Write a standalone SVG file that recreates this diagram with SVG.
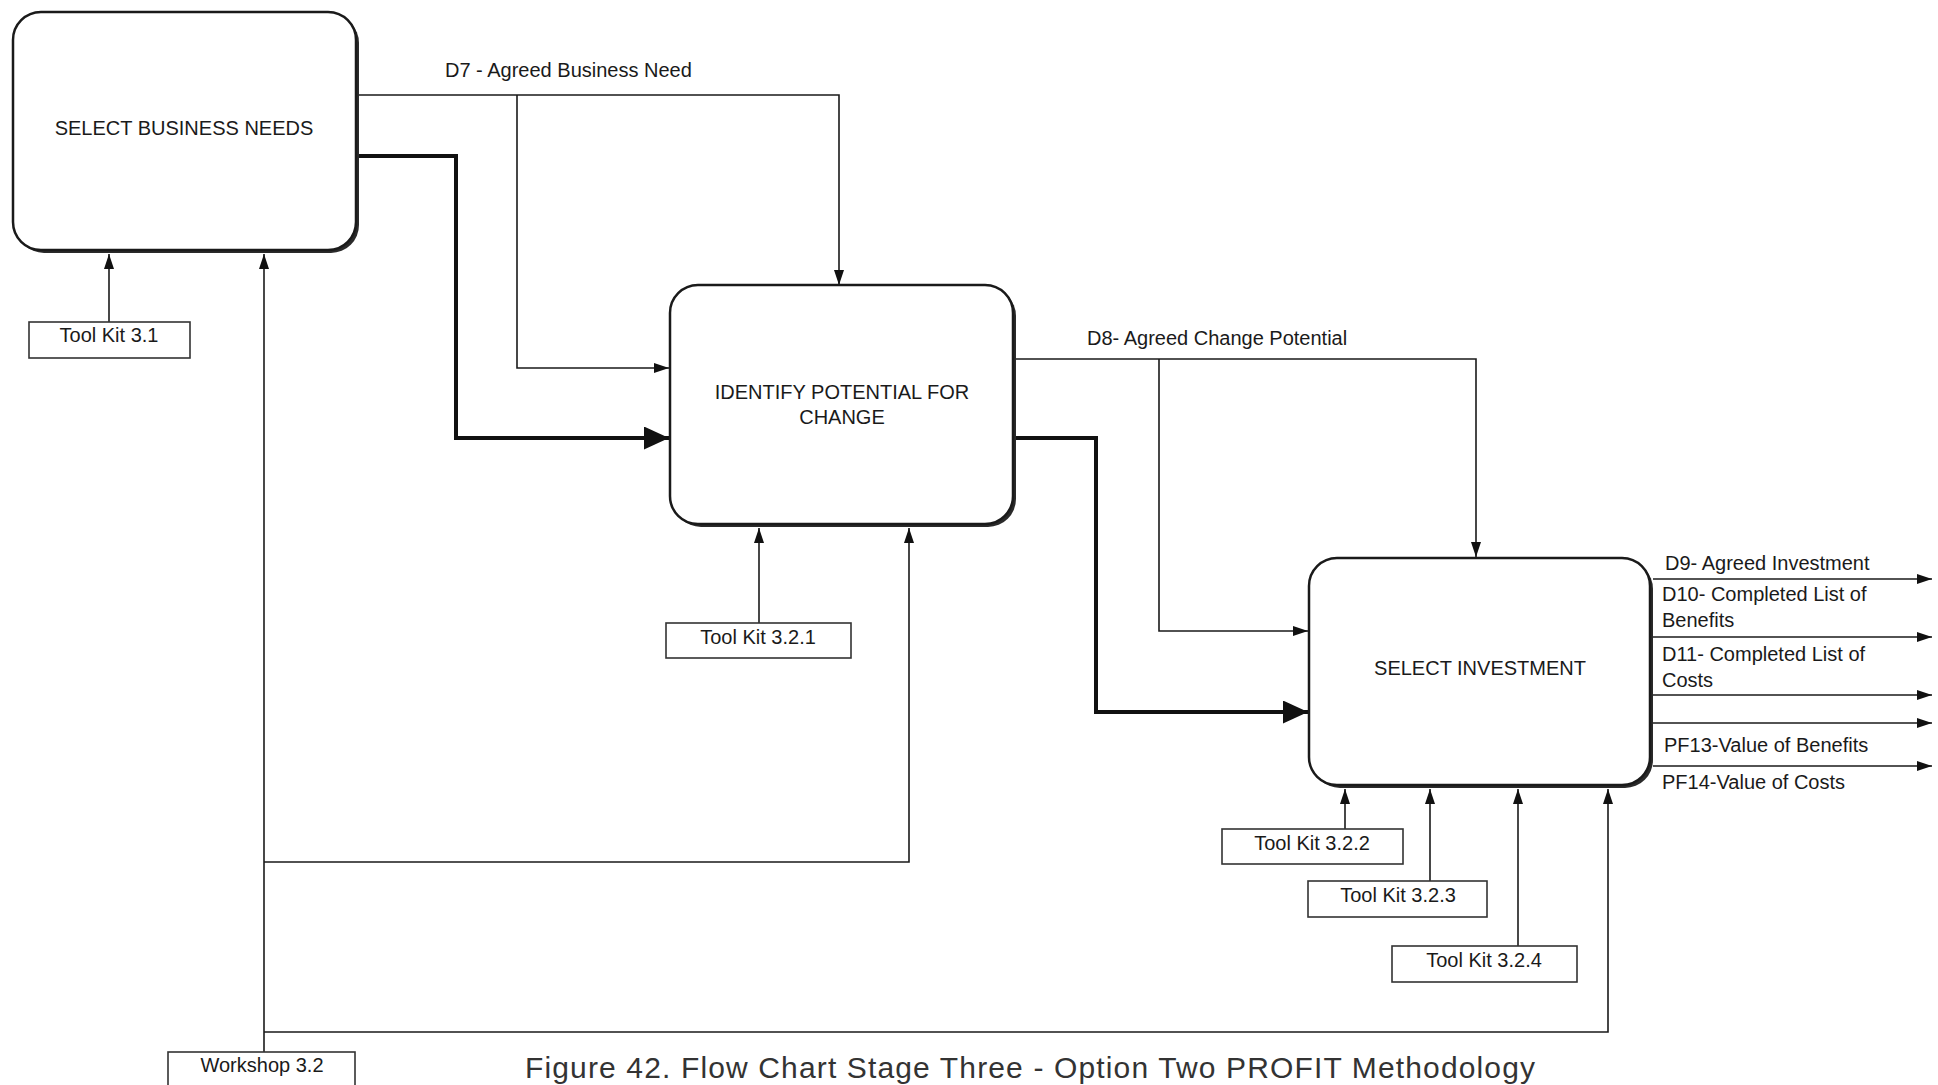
<svg xmlns="http://www.w3.org/2000/svg" width="1938" height="1085" viewBox="0 0 1938 1085">
<style>
text { font-family: "Liberation Sans", Arial, sans-serif; fill: #1a1a1a; }
.lbl { font-size: 20px; }
.mid { text-anchor: middle; }
.cap { font-size: 30px; fill: #333; }
.shadow { fill: #2a2a2a; }
.box { fill: #ffffff; stroke: #1a1a1a; stroke-width: 2.5; }
.tk { fill: #ffffff; stroke: #333; stroke-width: 1.6; }
.thin { fill: none; stroke: #1a1a1a; stroke-width: 1.6; }
.thick { fill: none; stroke: #111; stroke-width: 4; }
</style>
<defs>
<marker id="a" markerUnits="userSpaceOnUse" markerWidth="16" markerHeight="12" refX="15" refY="5" orient="auto">
<path d="M0,0 L15,5 L0,10 Z" fill="#111"/>
</marker>
<marker id="b" markerUnits="userSpaceOnUse" markerWidth="26" markerHeight="24" refX="25" refY="11.5" orient="auto">
<path d="M0,0 L25,11.5 L0,23 Z" fill="#111"/>
</marker>
</defs>
<rect width="1938" height="1085" fill="#ffffff"/>

<g id="connectors">
<path class="thin" d="M359,95 H839 V285" marker-end="url(#a)"/>
<path class="thin" d="M517,95 V368 H669" marker-end="url(#a)"/>
<path class="thick" d="M359,156 H456 V438 H669" marker-end="url(#b)"/>
<path class="thin" d="M1016,359 H1476 V557" marker-end="url(#a)"/>
<path class="thin" d="M1159,359 V631 H1308" marker-end="url(#a)"/>
<path class="thick" d="M1016,438 H1096 V712 H1308" marker-end="url(#b)"/>
<path class="thin" d="M1653,579 H1932" marker-end="url(#a)"/>
<path class="thin" d="M1653,637 H1932" marker-end="url(#a)"/>
<path class="thin" d="M1653,695 H1932" marker-end="url(#a)"/>
<path class="thin" d="M1653,723 H1932" marker-end="url(#a)"/>
<path class="thin" d="M1653,766 H1932" marker-end="url(#a)"/>
<path class="thin" d="M109,322 V254" marker-end="url(#a)"/>
<path class="thin" d="M759,623 V528" marker-end="url(#a)"/>
<path class="thin" d="M1345,829 V789" marker-end="url(#a)"/>
<path class="thin" d="M1430,881 V789" marker-end="url(#a)"/>
<path class="thin" d="M1518,946 V789" marker-end="url(#a)"/>
<path class="thin" d="M264,1052 V254" marker-end="url(#a)"/>
<path class="thin" d="M264,862 H909 V528" marker-end="url(#a)"/>
<path class="thin" d="M264,1032 H1608 V789" marker-end="url(#a)"/>
</g>

<g id="select-business-needs">
<rect class="shadow" x="16" y="15" width="343" height="238" rx="28"/>
<rect class="box" x="13" y="12" width="343" height="238" rx="28"/>
<text class="lbl mid" x="184" y="135">SELECT BUSINESS NEEDS</text>
</g>

<g id="identify-potential">
<rect class="shadow" x="673" y="288" width="343" height="239" rx="28"/>
<rect class="box" x="670" y="285" width="343" height="239" rx="28"/>
<text class="lbl mid" x="842" y="399">IDENTIFY POTENTIAL FOR</text>
<text class="lbl mid" x="842" y="424">CHANGE</text>
</g>

<g id="select-investment">
<rect class="shadow" x="1312" y="561" width="341" height="227" rx="28"/>
<rect class="box" x="1309" y="558" width="341" height="227" rx="28"/>
<text class="lbl mid" x="1480" y="675">SELECT INVESTMENT</text>
</g>

<g id="labels">
<text class="lbl" x="445" y="77">D7 - Agreed Business Need</text>
<text class="lbl" x="1087" y="345">D8- Agreed Change Potential</text>
<text class="lbl" x="1665" y="570">D9- Agreed Investment</text>
<text class="lbl" x="1662" y="601">D10- Completed List of</text>
<text class="lbl" x="1662" y="627">Benefits</text>
<text class="lbl" x="1662" y="661">D11- Completed List of</text>
<text class="lbl" x="1662" y="687">Costs</text>
<text class="lbl" x="1664" y="752">PF13-Value of Benefits</text>
<text class="lbl" x="1662" y="789">PF14-Value of Costs</text>
</g>

<g id="toolkit-3-1">
<rect class="tk" x="29" y="322" width="161" height="36"/>
<text class="lbl mid" x="109" y="342">Tool Kit 3.1</text>
</g>
<g id="toolkit-3-2-1">
<rect class="tk" x="666" y="623" width="185" height="35"/>
<text class="lbl mid" x="758" y="644">Tool Kit 3.2.1</text>
</g>
<g id="toolkit-3-2-2">
<rect class="tk" x="1222" y="829" width="181" height="35"/>
<text class="lbl mid" x="1312" y="850">Tool Kit 3.2.2</text>
</g>
<g id="toolkit-3-2-3">
<rect class="tk" x="1308" y="881" width="179" height="36"/>
<text class="lbl mid" x="1398" y="902">Tool Kit 3.2.3</text>
</g>
<g id="toolkit-3-2-4">
<rect class="tk" x="1392" y="946" width="185" height="36"/>
<text class="lbl mid" x="1484" y="967">Tool Kit 3.2.4</text>
</g>
<g id="workshop-3-2">
<rect class="tk" x="168" y="1052" width="187" height="45"/>
<text class="lbl mid" x="262" y="1072">Workshop 3.2</text>
</g>

<text class="cap" x="525" y="1078" textLength="1010" lengthAdjust="spacing">Figure 42. Flow Chart Stage Three - Option Two PROFIT Methodology</text>
</svg>
